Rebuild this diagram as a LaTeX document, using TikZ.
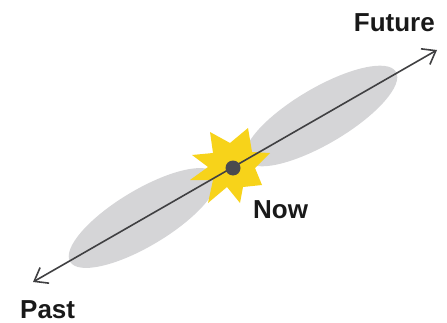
\documentclass[tikz,border=0pt]{standalone}
\usepackage{fontspec}
\setmainfont{Liberation Sans}
\usepackage{xcolor}
\usepackage{tikz}
\usetikzlibrary{arrows.meta}
\definecolor{lobegray}{HTML}{D5D5D7}
\definecolor{burstyellow}{HTML}{F7D31A}
\definecolor{axisgray}{HTML}{404042}
\definecolor{dotgray}{HTML}{4A4A4F}

\begin{document}
\begin{tikzpicture}[x=1pt,y=1pt,>={Straight Barb[length=12pt,width=18pt]}]

\tikzset{
lobe/.style={
    fill=lobegray,
    draw=none
},
burst/.style={
    fill=burstyellow,
    draw=none
},
axis/.style={<->,line width=1.6pt,color=axisgray},
label/.style={
    font=\fontsize{26}{30}\selectfont\bfseries,
    inner sep=0pt,
    text=black!90
}
}

\useasboundingbox (0,0) rectangle (447,322);

% lobes
\fill[lobe,rotate around={30.5:(321,206)}] (321,206) ellipse [x radius=87,y radius=28];
\fill[lobe,rotate around={31:(143,104)}] (143,104) ellipse [x radius=85,y radius=28];

% burst
\fill[burst] (210,190) -- (230,179) -- (248,194) -- (252,170) -- (270,169)
-- (255,154) -- (262,137) -- (243,135) -- (240,119) -- (227,135)
-- (208,119) -- (213,142) -- (190,142) -- (208,155) -- (192,167)
-- (213,169) -- cycle;

\coordinate (past) at (33,40);
\coordinate (future) at (437,272);
\draw[axis] (past) -- (future);

\node[circle,fill=dotgray,minimum size=15pt,inner sep=0pt] (nowdot) at (233,154) {};

\node[label,anchor=base east] (futurelabel) at (435,290) {Future};
\node[label,anchor=base west] (nowlabel) at (253,104) {Now};
\node[label,anchor=base west] (pastlabel) at (20,4) {Past};

\end{tikzpicture}
\end{document}
